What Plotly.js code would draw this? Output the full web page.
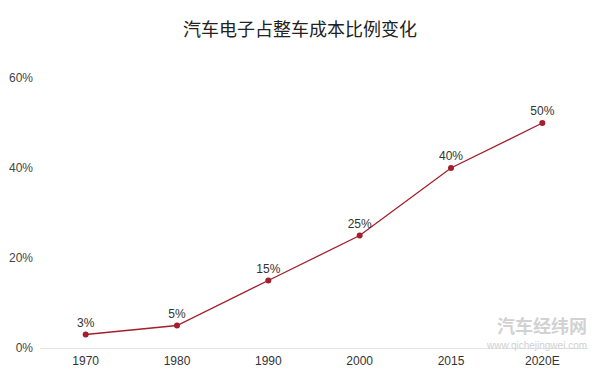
<!DOCTYPE html>
<html><head><meta charset="utf-8">
<script src="https://cdn.plot.ly/plotly-3.0.1.min.js"></script>
<style>html,body{margin:0;padding:0;background:#fff}#c{width:600px;height:376px}</style>
</head><body><div id="c"></div>
<script>
const categories = ['1970','1980','1990','2000','2015','2020E'];
const values = [3, 5, 15, 25, 40, 50];
const labels = ['3%','5%','15%','25%','40%','50%'];
const yTicks = [0, 20, 40, 60];
const yTickLabels = ['0%','20%','40%','60%'];

const trace = {
  x: categories, y: values, type: 'scatter', mode: 'lines+markers+text',
  text: labels, textposition: 'top center',
  textfont: {family: 'Liberation Sans, Arial, sans-serif', size: 12, color: '#333'},
  line: {color: '#A31F2A', width: 1.3},
  marker: {color: '#A31F2A', size: 6},
  cliponaxis: false, hoverinfo: 'none'
};
const layout = {
  width: 600, height: 376,
  margin: {l: 40, r: 12, t: 78, b: 28},
  paper_bgcolor: '#fff', plot_bgcolor: '#fff',
  title: {text: '汽车电子占整车成本比例变化', x: 0.5, xanchor: 'center', y: 0.92, yanchor: 'middle',
    font: {family: 'Noto Sans CJK SC, sans-serif', size: 18, color: '#222'}},
  showlegend: false,
  xaxis: {type: 'category', range: [-0.5, 5.5], showgrid: false, zeroline: false, showline: true, linecolor: '#e6e6e6', linewidth: 1,
    ticks: '', ticklabelstandoff: 2, tickfont: {family: 'Liberation Sans, Arial, sans-serif', size: 12, color: '#333'}, fixedrange: true},
  yaxis: {range: [0, 60], tickvals: yTicks, ticktext: yTickLabels, showgrid: false, zeroline: false, showline: false,
    ticks: '', ticklabelstandoff: 6,
    tickfont: {family: 'Liberation Sans, Arial, sans-serif', size: 12, color: '#444'}, fixedrange: true},
  annotations: [
    {text: '<b>汽车经纬网</b>', xref: 'paper', yref: 'paper', x: 1.0, y: 0.085, xanchor: 'right', yanchor: 'middle',
      showarrow: false, borderpad: 0, font: {family: 'Noto Sans CJK SC, sans-serif', size: 18, color: '#d2d2d2'}},
    {text: 'www.qichejingwei.com', xref: 'paper', yref: 'paper', x: 1.0, y: 0.008, xanchor: 'right', yanchor: 'middle',
      showarrow: false, borderpad: 0, font: {family: 'Liberation Sans, Arial, sans-serif', size: 10, color: '#d0d0d0'}}
  ]
};
Plotly.newPlot('c', [trace], layout, {displayModeBar: false, staticPlot: true});
</script></body></html>
